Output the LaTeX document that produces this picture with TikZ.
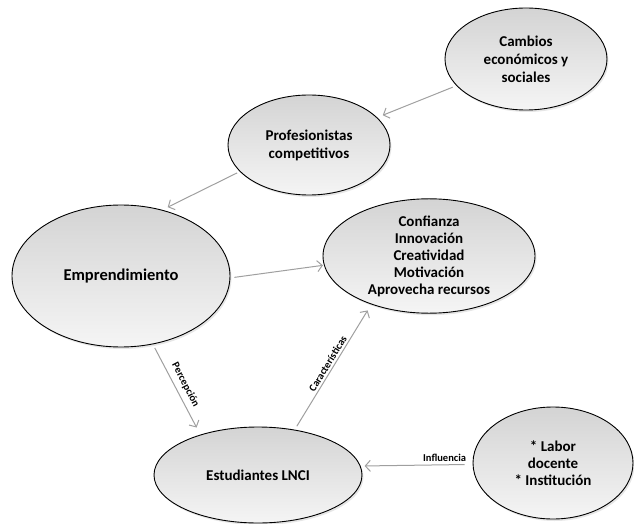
\documentclass[tikz,border=0pt]{standalone}
\usepackage{fontspec}
\setmainfont{Carlito}
\usetikzlibrary{shapes.geometric,arrows.meta,shadows}

\begin{document}
\begin{tikzpicture}[
x=1pt, y=1pt,
idea/.style={
  ellipse,
  draw=black,
  line width=0.9pt,
  top color=gray!34,
  bottom color=gray!8,
  drop shadow={opacity=0.2, shadow xshift=1.5pt, shadow yshift=-2pt},
  inner sep=0pt,
  align=center,
  font=\fontsize{15}{18}\selectfont\bfseries
  },
link/.style={
  ->,
  draw=gray!75,
  line width=1pt,
  shorten <=4pt,
  shorten >=5pt
  },
tag/.style={
  font=\fontsize{10.5}{12}\selectfont\bfseries,
  inner sep=1pt
  },
>={Straight Barb[length=5pt,width=11pt]}
]
\useasboundingbox (0,0) rectangle (634,523);

\node[idea, minimum width=162, minimum height=102] at (526,464)
  (cambios) {Cambios\\económicos y\\sociales};
\node[idea, minimum width=162, minimum height=100] at (309,378)
  (prof) {Profesionistas\\competitivos};
\node[idea, minimum width=218, minimum height=142, font=\fontsize{16.5}{19}\selectfont\bfseries] at (121,247)
  (empr) {Emprendimiento};
\node[idea, minimum width=212, minimum height=102, font=\fontsize{15}{17}\selectfont\bfseries] at (429,267)
  (rasgos) {Confianza\\Innovación\\Creatividad\\Motivación\\Aprovecha recursos};
\node[idea, minimum width=208, minimum height=96] at (258,48)
  (estud) {Estudiantes LNCI};
\node[idea, minimum width=160, minimum height=112, font=\fontsize{15}{17}\selectfont\bfseries] at (553,60)
  (labor) {* Labor\\docente\\* Institución};

% conexiones
\draw[link, shorten >=6pt] (cambios.201) -- (prof.22);
\draw[link, shorten <=3pt, shorten >=6pt] (prof.201) -- (empr.58);
\draw[link, shorten >=1pt] (empr.359.5) -- (rasgos.185);
\draw[link, shorten >=8pt] (empr.295) --
  node[tag, midway, above=4pt, sloped] {Percepción} (estud.145);
\draw[link, shorten >=7pt] (estud.51) --
  node[tag, midway, above=1pt, sloped] {Características} (rasgos.220);
\draw[link, shorten <=8pt, shorten >=4pt] (labor.181) --
  node[tag, pos=0.25, above=2pt] {Influencia} (estud.5);
\end{tikzpicture}
\end{document}
